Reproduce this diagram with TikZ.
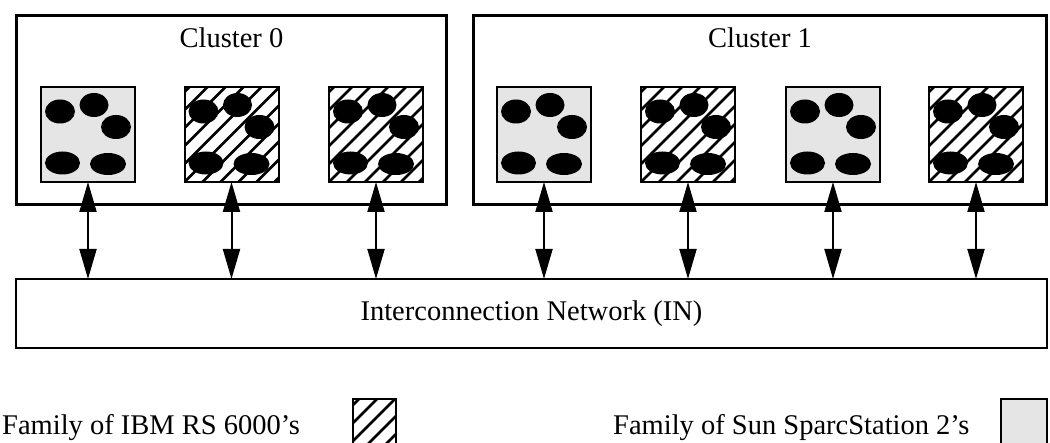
\documentclass[tikz,border=0pt]{standalone}
\usepackage{fontspec}
\setmainfont{Liberation Serif}
\usetikzlibrary{arrows.meta}

% diagonal hatching lines inside the current path picture
\newcommand\hatchlines{%
  \foreach \k in {-7,...,7}
    \draw[black, line width=2.6pt] ([xshift=\k*18pt]path picture bounding box.south west) -- ++(130pt,130pt);}
% the five disks of a workstation
\newcommand\diskset{%
  \begin{scope}[fill=black]
  \fill ([shift={(19pt,-24.5pt)}]path picture bounding box.north west) ellipse [x radius=15pt, y radius=12pt];
  \fill ([shift={(53pt,-18pt)}]path picture bounding box.north west) ellipse [x radius=14.5pt, y radius=12pt];
  \fill ([shift={(75pt,-40pt)}]path picture bounding box.north west) ellipse [x radius=15pt, y radius=12pt];
  \fill ([shift={(21.5pt,-76pt)}]path picture bounding box.north west) ellipse [x radius=17.5pt, y radius=11.5pt];
  \fill ([shift={(67pt,-77pt)}]path picture bounding box.north west) ellipse [x radius=18pt, y radius=11pt];
  \end{scope}}

\tikzset{
  lbl/.style={font=\fontsize{28.5pt}{30pt}\selectfont, inner sep=0pt},
  cluster/.style={draw, line width=3pt, inner sep=0pt, outer sep=0pt},
  station/.style={draw, line width=2pt, inner sep=0pt, outer sep=0pt,
    minimum width=94pt, minimum height=95pt},
  ibm/.style={station, path picture={\hatchlines\diskset}},
  sun/.style={station, fill=black!10, path picture={\diskset}},
  link/.style={line width=2pt, {Triangle[length=30pt,width=17pt]}-{Triangle[length=30pt,width=17pt]}},
}

\begin{document}
\begin{tikzpicture}[x=1pt, y=-1pt]
  \useasboundingbox (0,0) rectangle (1050,443);

  % clusters
  \node[cluster, minimum width=430pt, minimum height=189pt] (c0) at (231.5,110) {};
  \node[cluster, minimum width=573pt, minimum height=189pt] (c1) at (760,110) {};
  \node[lbl] (c0label) at (231.5,38) {Cluster 0};
  \node[lbl] (c1label) at (760,38) {Cluster 1};

  % workstations
  \node[sun] (n1) at (88,134.5) {};
  \node[ibm] (n2) at (231.5,134.5) {};
  \node[ibm] (n3) at (376,134.5) {};
  \node[sun] (n4) at (544,134.5) {};
  \node[ibm] (n5) at (688,134.5) {};
  \node[sun] (n6) at (833,134.5) {};
  \node[ibm] (n7) at (976,134.5) {};

  % interconnection network
  \node[draw, line width=2pt, inner sep=0pt, outer sep=0pt,
        minimum width=1031pt, minimum height=69pt, lbl] (in) at (531.5,313.5)
        {Interconnection Network (IN)};

  % links to the network
  \foreach \n in {n1,n2,n3,n4,n5,n6,n7}
    \draw[link] (\n.south) -- (\n |- in.north);

  % legend
  \node[lbl, anchor=base west] (ibmtext) at (2,435) {Family of IBM RS 6000's};
  \node[lbl, anchor=base west] (suntext) at (613,435) {Family of Sun SparcStation 2's};
  \node[draw, line width=2pt, inner sep=0pt, outer sep=0pt, minimum width=43pt,
        minimum height=60pt, anchor=north west, path picture={\hatchlines}]
        (ibmkey) at (353,399) {};
  \node[draw, line width=2pt, fill=black!10, inner sep=0pt, outer sep=0pt, minimum width=46pt,
        minimum height=60pt, anchor=north west] (sunkey) at (1001,399) {};
\end{tikzpicture}
\end{document}
